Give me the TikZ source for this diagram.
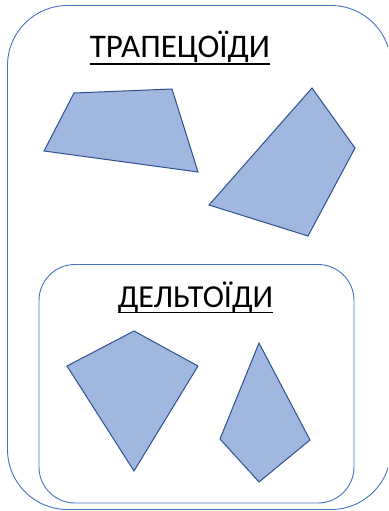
\documentclass[tikz,border=0pt]{standalone}
\usepackage{fontspec}
\setmainfont{Carlito}
\definecolor{shapefill}{RGB}{160,183,224}
\definecolor{shapeline}{RGB}{47,82,143}
\definecolor{boxline}{RGB}{68,114,196}
\tikzset{
  quad/.style={fill=shapefill,draw=shapeline,line width=1pt,line join=miter},
  frame/.style={draw=boxline,line width=0.9pt},
  title/.style={anchor=base,inner sep=0pt,text=black}
}
\begin{document}
\begin{tikzpicture}[x=1pt,y=-1pt]
\useasboundingbox (0,0) rectangle (388,511);
\begin{scope}
\clip (0,0) rectangle (388,511);
\draw[frame,rounded corners=60] (7.5,5.5) rectangle (391,509.5);
\end{scope}
\draw[frame,rounded corners=36] (39,264.5) rectangle (354,503);
\node[title,font=\fontsize{33}{38}\selectfont] (t1) at (180,58) {ТРАПЕЦОЇДИ};
\draw[line width=1.4pt] ([yshift=-6pt]t1.base west) -- ([yshift=-6pt]t1.base east);
\node[title,font=\fontsize{32}{37}\selectfont] (t2) at (195.5,307) {ДЕЛЬТОЇДИ};
\draw[line width=1.4pt] ([yshift=-5.5pt]t2.base west) -- ([yshift=-5.5pt]t2.base east);
\draw[quad] (74,93) -- (172,89) -- (198,172) -- (44,151) -- cycle;
\draw[quad] (312,88) -- (355,148) -- (308,236) -- (209,205) -- cycle;
\draw[quad] (67,366) -- (134,331) -- (198,366) -- (134,471) -- cycle;
\draw[quad] (259,343) -- (310,440) -- (259,482) -- (220,439) -- cycle;
\end{tikzpicture}
\end{document}
